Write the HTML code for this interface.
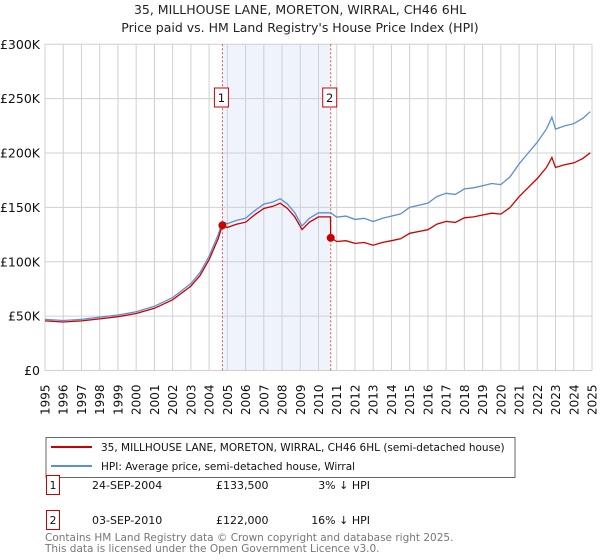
<!DOCTYPE html>
<html><head><meta charset="utf-8"><style>
body{margin:0;background:#fff;font-family:"Liberation Sans","DejaVu Sans",sans-serif;}
#wrap{position:relative;width:600px;height:560px;overflow:hidden}
svg text{font-family:"DejaVu Sans","Liberation Sans",sans-serif}
</style></head><body>
<div id="wrap">
<svg id="chart" width="600" height="560"></svg>
</div>
<script>
const years=[1995,1996,1997,1998,1999,2000,2001,2002,2003,2004,2005,2006,2007,2008,2009,2010,2011,2012,2013,2014,2015,2016,2017,2018,2019,2020,2021,2022,2023,2024,2025];
const yTicks=[0,50000,100000,150000,200000,250000,300000];
const yTickLabels=["£0","£50K","£100K","£150K","£200K","£250K","£300K"];
const hpiT=[1995,1996,1997,1998,1999,2000,2001,2002,2003,2003.5,2004,2004.5,2004.73,2005,2005.5,2006,2006.5,2007,2007.5,2007.9,2008.3,2008.7,2009.1,2009.5,2010,2010.67,2011,2011.5,2012,2012.5,2013,2013.5,2014,2014.5,2015,2015.5,2016,2016.5,2017,2017.5,2018,2018.5,2019,2019.5,2020,2020.5,2021,2021.5,2022,2022.5,2022.8,2023,2023.5,2024,2024.5,2024.9];
const hpiV=[47,46,47,49,51,54,59,67,80,90,105,125,137,135,138,140,147,153,155,158,153,145,133,140,145,145,141,142,139,140,137,140,142,144,150,152,154,160,163,162,167,168,170,172,171,178,190,200,210,222,233,222,225,227,232,238];
const redT=[1995,1996,1997,1998,1999,2000,2001,2002,2003,2003.5,2004,2004.5,2004.73,2005,2005.5,2006,2006.5,2007,2007.5,2007.9,2008.3,2008.7,2009.1,2009.5,2010,2010.66,2010.67,2011,2011.5,2012,2012.5,2013,2013.5,2014,2014.5,2015,2015.5,2016,2016.5,2017,2017.5,2018,2018.5,2019,2019.5,2020,2020.5,2021,2021.5,2022,2022.5,2022.8,2023,2023.5,2024,2024.5,2024.9];
const redV=[45.6,44.6,45.6,47.5,49.5,52.4,57.2,65,77.6,87.3,101.9,121.3,133.5,131.5,134.5,136.4,143.2,149,151,153.9,149,141.3,129.6,136.4,141.3,141.3,122,118.6,119.4,116.9,117.7,115.2,117.7,119.4,121.1,126.2,127.8,129.5,134.6,137.1,136.2,140.4,141.3,143,144.7,143.8,149.7,159.8,168.2,176.6,186.7,196,186.7,189.2,190.9,195.1,200.2];
const saleT=[2004.73,2010.67];
const saleV=[133500,122000];
const saleLabels=["1","2"];

const NS="http://www.w3.org/2000/svg";
const svg=document.getElementById('chart');
const L=45,R=592,T=44.3,B=370.5;
const x=t=>L+(t-1995)/30*(R-L);
const y=v=>B-v/300000*(B-T);
function mk(tag,attrs,parent){const e=document.createElementNS(NS,tag);for(const k in attrs)e.setAttribute(k,attrs[k]);(parent||svg).appendChild(e);return e;}
function txt(s,attrs){const e=mk('text',attrs);e.textContent=s;return e;}

let e=txt("35, MILLHOUSE LANE, MORETON, WIRRAL, CH46 6HL",{x:300,y:14,'text-anchor':'middle','font-size':12.5,fill:'#222'});


e=txt("Price paid vs. HM Land Registry's House Price Index (HPI)",{x:300,y:32,'text-anchor':'middle','font-size':12.5,fill:'#222'});



e=mk('rect',{x:x(saleT[0]),y:T,width:x(saleT[1])-x(saleT[0]),height:B-T,fill:'#eef3fc'});



years.forEach(yr=>{const g=mk('line',{x1:x(yr),x2:x(yr),y1:T,y2:B,stroke:'#d0d0d0','stroke-width':1});


const t=txt(String(yr),{transform:`translate(${x(yr)+4.5},${B+14}) rotate(-90)`,'text-anchor':'end','font-size':12,fill:'#111'});

});
yTicks.forEach((v,i)=>{const g=mk('line',{x1:L,x2:R,y1:y(v),y2:y(v),stroke:'#d0d0d0','stroke-width':1});


const t=txt(yTickLabels[i],{x:L-5,y:y(v)+4.5,'text-anchor':'end','font-size':12.5,fill:'#111'});

});

saleT.forEach((t,i)=>{const l=mk('line',{x1:x(t),x2:x(t),y1:T,y2:B,stroke:'#e05050','stroke-width':1,'stroke-dasharray':'2,2'});


const r=mk('rect',{x:x(t)-8,y:88,width:14,height:19,fill:'#fff',stroke:'#cc0000','stroke-width':1});


const tt=txt(saleLabels[i],{x:x(t)-1,y:102,'text-anchor':'middle','font-size':11.5,fill:'#111'});

});

const hp=hpiT.map((t,i)=>x(t).toFixed(1)+','+y(hpiV[i]*1000).toFixed(1)).join(' ');
e=mk('polyline',{points:hp,fill:'none',stroke:'#5b8fd4','stroke-width':1.3});


const rp=redT.map((t,i)=>x(t).toFixed(1)+','+y(redV[i]*1000).toFixed(1)).join(' ');
e=mk('polyline',{points:rp,fill:'none',stroke:'#cc0000','stroke-width':1.3});


saleT.forEach((t,i)=>{const c=mk('circle',{cx:x(t),cy:y(saleV[i]),r:4,fill:'#cc0000'});

});

// legend
e=mk('rect',{x:46,y:437.5,width:469,height:40,fill:'#fff',stroke:'#666','stroke-width':1});


e=mk('line',{x1:51,x2:92,y1:447,y2:447,stroke:'#cc0000','stroke-width':2});


e=txt("35, MILLHOUSE LANE, MORETON, WIRRAL, CH46 6HL (semi-detached house)",{x:101,y:451,'font-size':10.5,fill:'#111'});


e=mk('line',{x1:51,x2:92,y1:466,y2:466,stroke:'#5b8fd4','stroke-width':2});


e=txt("HPI: Average price, semi-detached house, Wirral",{x:101,y:470,'font-size':10.5,fill:'#111'});



// table
const rows=[["1","24-SEP-2004","£133,500","3% ↓ HPI"],["2","03-SEP-2010","£122,000","16% ↓ HPI"]];
rows.forEach((r,i)=>{const yy=475+i*35;
const b=mk('rect',{x:46.5,y:yy+0.5,width:13,height:19,fill:'#fff',stroke:'#cc0000','stroke-width':1});


let t=txt(r[0],{x:53,y:yy+14,'text-anchor':'middle','font-size':11,fill:'#111'});


t=txt(r[1],{x:92,y:yy+14,'font-size':11,fill:'#111'});


t=txt(r[2],{x:216,y:yy+14,'font-size':11,fill:'#111'});


t=txt(r[3],{x:370,y:yy+14,'text-anchor':'end','font-size':11,fill:'#111'});

});

e=txt("Contains HM Land Registry data © Crown copyright and database right 2025.",{x:45,y:541,'font-size':10.5,fill:'#777'});


e=txt("This data is licensed under the Open Government Licence v3.0.",{x:45,y:552,'font-size':10.5,fill:'#777'});


</script>
</body></html>
